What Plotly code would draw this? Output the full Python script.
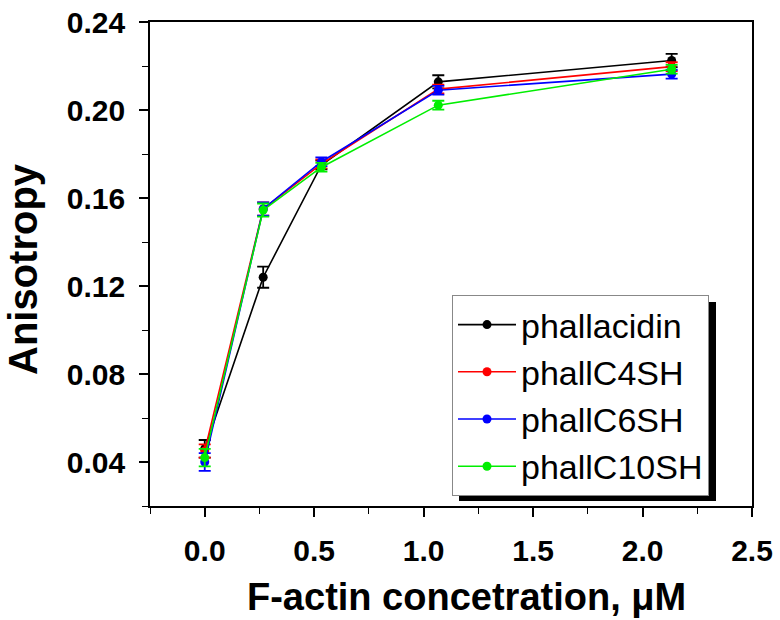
import plotly.graph_objects as go

# Data
conc = [0.0, 0.267, 0.533, 1.067, 2.133]  # F-actin concentration, uM

series_names = ["phallacidin", "phallC4SH", "phallC6SH", "phallC10SH"]
series_colors = ["#000000", "#ff0000", "#0000ff", "#00ee00"]

phallacidin = [0.046, 0.124, 0.175, 0.2128, 0.2225]
phallC4SH = [0.045, 0.155, 0.1755, 0.2095, 0.2197]
phallC6SH = [0.040, 0.155, 0.1765, 0.2090, 0.2163]
phallC10SH = [0.042, 0.1545, 0.174, 0.2022, 0.2185]

err_phallacidin = [0.004, 0.0048, 0.002, 0.003, 0.003]
err_phallC4SH = [0.003, 0.003, 0.002, 0.002, 0.002]
err_phallC6SH = [0.004, 0.003, 0.002, 0.002, 0.002]
err_phallC10SH = [0.004, 0.003, 0.002, 0.002, 0.002]

values = [phallacidin, phallC4SH, phallC6SH, phallC10SH]
errors = [err_phallacidin, err_phallC4SH, err_phallC6SH, err_phallC10SH]

x_ticks = [0.0, 0.5, 1.0, 1.5, 2.0, 2.5]
y_ticks = [0.04, 0.08, 0.12, 0.16, 0.20, 0.24]

FONT = "Liberation Sans, Arial, Helvetica, sans-serif"

fig = go.Figure()
for name, col, v, e in zip(series_names, series_colors, values, errors):
    fig.add_trace(go.Scatter(
        x=conc, y=v, name=name, mode="lines+markers",
        legendgroup=name,
        line=dict(color=col, width=1.6),
        marker=dict(color=col, size=9, symbol="circle"),
        error_y=dict(type="data", array=e, visible=True, color=col,
                     thickness=1.8, width=6),
    ))

# body margin is removed by post_script, so figure coords = page coords
W, H = 780, 620
PX0, PX1, PY0, PY1 = 150, 752, 22, 506   # target plot area in pixels
L, T, R, B = PX0, PY0, W - PX1, H - PY1
pw, ph = PX1 - PX0, PY1 - PY0

def px2paper_x(px):
    return (px - PX0) / pw

def px2paper_y(py):
    return (PY1 - py) / ph

# legend shadow (style element, positioned in paper coordinates)
fig.add_shape(type="rect", xref="paper", yref="paper",
              x0=px2paper_x(459), x1=px2paper_x(716),
              y0=px2paper_y(501), y1=px2paper_y(302),
              fillcolor="black", line=dict(width=0), layer="above")

fig.add_annotation(
    text="F-actin concetration, μM", xref="paper", yref="paper",
    x=px2paper_x(466), y=px2paper_y(597), xanchor="center", yanchor="middle",
    showarrow=False, font=dict(size=38, family=FONT, weight="bold", color="black"),
)
fig.add_annotation(
    text="Anisotropy", xref="paper", yref="paper", textangle=-90,
    x=px2paper_x(23), y=px2paper_y(269), xanchor="center", yanchor="middle",
    showarrow=False, font=dict(size=40, family=FONT, weight="bold", color="black"),
)

fig.update_layout(
    width=W, height=H,
    margin=dict(l=L, r=R, t=T, b=B, autoexpand=False),
    paper_bgcolor="white", plot_bgcolor="white",
    font=dict(family=FONT, color="black"),
    showlegend=True,
    legend=dict(
        x=px2paper_x(452), y=px2paper_y(295), xanchor="left", yanchor="top",
        bgcolor="white", bordercolor="#888888", borderwidth=1,
        font=dict(size=34, family=FONT, color="black"),
        tracegroupgap=0, itemwidth=58,
    ),
    xaxis=dict(
        range=[-0.25, 2.5], tickvals=x_ticks,
        ticktext=[f"{t:.1f}" for t in x_ticks],
        ticks="outside", ticklen=9, tickwidth=1.5, tickcolor="black",
        minor=dict(dtick=0.25, tick0=0, ticks="outside", ticklen=6,
                   tickwidth=1.2, tickcolor="black"),
        showline=True, linecolor="black", linewidth=1.6, mirror=True,
        showgrid=False, zeroline=False, automargin=False,
        tickfont=dict(size=30, family=FONT, weight="bold"),
        ticklabelstandoff=8, ticklabeloverflow="allow",
    ),
    yaxis=dict(
        range=[0.02, 0.24], tickvals=y_ticks,
        ticktext=[f"{t:.2f}" for t in y_ticks],
        ticks="outside", ticklen=9, tickwidth=1.5, tickcolor="black",
        minor=dict(dtick=0.02, tick0=0, ticks="outside", ticklen=6,
                   tickwidth=1.2, tickcolor="black"),
        showline=True, linecolor="black", linewidth=1.6, mirror=True,
        showgrid=False, zeroline=False, automargin=False,
        tickfont=dict(size=30, family=FONT, weight="bold"),
        ticklabelstandoff=8, ticklabeloverflow="allow",
    ),
)

fig.write_html("out.html", config={"displayModeBar": False},
               post_script="document.body.style.margin='0';document.body.style.overflow='hidden';")
